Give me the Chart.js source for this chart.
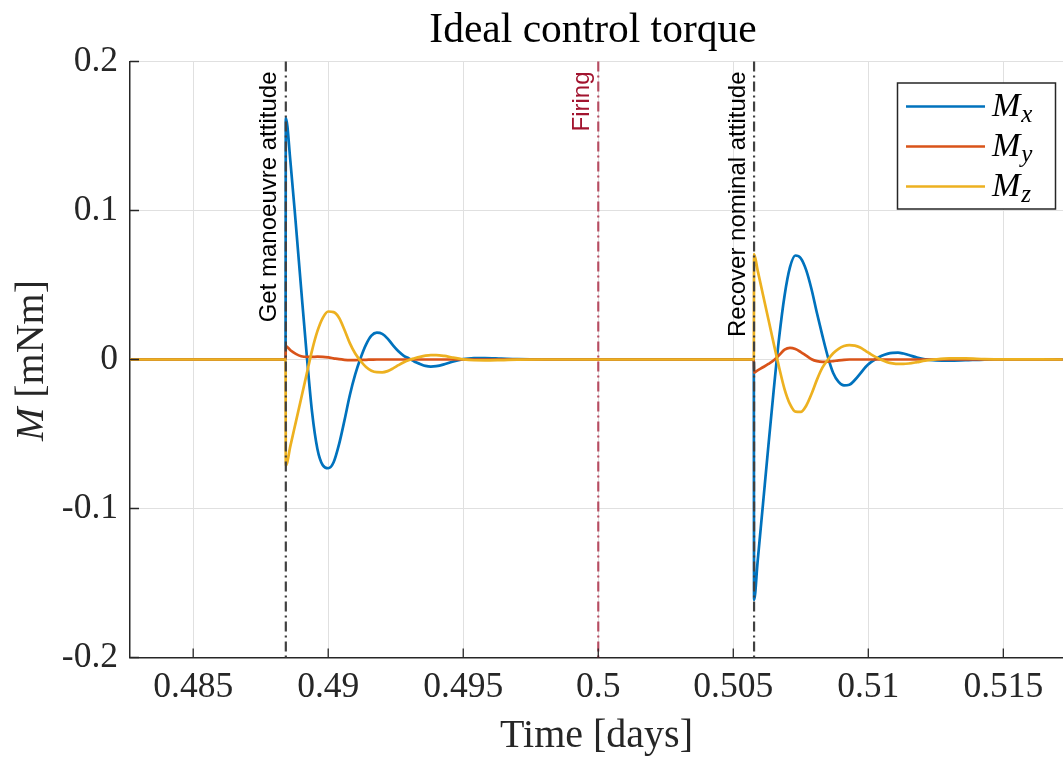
<!DOCTYPE html>
<html>
<head>
<meta charset="utf-8">
<title>Ideal control torque</title>
<script src="https://cdn.jsdelivr.net/npm/chart.js@4.4.1/dist/chart.umd.min.js"></script>
<style>
  html, body { margin: 0; padding: 0; background: #fff; }
  canvas { display: block; }
</style>
</head>
<body>
<canvas id="torqueChart" width="1063" height="758"></canvas>
<script>
// time samples [days]
const timeDays = [
  0.4826, 0.48842, 0.48843, 0.4886, 0.4888, 0.4890, 0.4892, 0.4894, 0.4896, 0.4898,
  0.4900, 0.4902, 0.4904, 0.4906, 0.4908, 0.4910, 0.4912, 0.4914, 0.4916, 0.4918,
  0.4920, 0.4922, 0.4924, 0.4926, 0.4928, 0.4930, 0.4932, 0.4934, 0.4936, 0.4938,
  0.4940, 0.4943, 0.4946, 0.4950, 0.4954, 0.4958, 0.4964, 0.4970, 0.4980, 0.50576,
  0.50577, 0.5059, 0.5061, 0.5063, 0.5065, 0.5067, 0.5069, 0.5071, 0.5073, 0.5075,
  0.5077, 0.5079, 0.5081, 0.5083, 0.5085, 0.5087, 0.5089, 0.5091, 0.5093, 0.5095,
  0.5097, 0.5099, 0.5101, 0.5103, 0.5105, 0.5107, 0.5109, 0.5111, 0.5113, 0.5115,
  0.5118, 0.5121, 0.5125, 0.5130, 0.5136, 0.5143, 0.5152, 0.5172
];

// torque components [mNm]
const torqueX = [
  0, 0, 0.162, 0.133, 0.091, 0.047, 0.004, -0.035, -0.060, -0.071,
  -0.073, -0.069, -0.057, -0.041, -0.024, -0.010, 0.001, 0.010, 0.016, 0.018,
  0.0172, 0.014, 0.0095, 0.0055, 0.0025, 0.0006, -0.0015, -0.003, -0.0043, -0.0048,
  -0.0045, -0.0032, -0.0015, 0.0002, 0.0009, 0.001, 0.0006, 0.0002, 0, 0,
  -0.1614, -0.136, -0.097, -0.058, -0.020, 0.015, 0.043, 0.062, 0.0698, 0.068,
  0.060, 0.047, 0.031, 0.016, 0.002, -0.009, -0.015, -0.0174, -0.017, -0.0138,
  -0.0095, -0.005, -0.0018, 0.0005, 0.0025, 0.0038, 0.0045, 0.0046, 0.004, 0.003,
  0.0013, 0.0001, -0.0006, -0.0008, -0.0005, -0.0001, 0, 0
];
const torqueY = [
  0, 0, 0.009, 0.0062, 0.0038, 0.0022, 0.0017, 0.0017, 0.0019, 0.0018,
  0.0014, 0.0008, 0.0002, -0.0002, -0.0004, -0.0004, -0.0003, -0.0002, -0.0001, 0,
  0, 0, 0, 0, 0, 0, 0, 0, 0, 0,
  0, 0, 0, 0, 0, 0, 0, 0, 0, 0,
  -0.0088, -0.0073, -0.0052, -0.003, -0.0005, 0.003, 0.0066, 0.0078, 0.007, 0.005,
  0.0026, 0.0002, -0.0011, -0.0016, -0.0015, -0.0011, -0.0006, -0.0002, 0, 0,
  0, 0, 0, 0, 0, 0, 0, 0, 0, 0,
  0, 0, 0, 0, 0, 0, 0, 0
];
const torqueZ = [
  0, 0, -0.0713, -0.058, -0.042, -0.026, -0.010, 0.006, 0.019, 0.028,
  0.0322, 0.0318, 0.028, 0.020, 0.011, 0.004, -0.001, -0.005, -0.0075, -0.0085,
  -0.0086, -0.0078, -0.006, -0.0038, -0.0018, -0.0003, 0.0008, 0.0018, 0.0026, 0.003,
  0.003, 0.0024, 0.0013, 0.0001, -0.0005, -0.0006, -0.0004, -0.0001, 0, 0,
  0.0708, 0.060, 0.0435, 0.027, 0.0105, -0.0055, -0.020, -0.030, -0.035, -0.0352,
  -0.031, -0.023, -0.0135, -0.0055, -0.0002, 0.0042, 0.0072, 0.009, 0.0096, 0.0093,
  0.008, 0.0058, 0.0035, 0.0014, -0.0004, -0.0018, -0.0026, -0.003, -0.003, -0.0027,
  -0.0018, -0.0008, 0.0001, 0.0007, 0.0007, 0.0003, 0.0001, 0
];

const seriesNames = ['x', 'y', 'z'];
const seriesColors = ['#0072BD', '#D95319', '#EDB120'];

const xTicks = [0.485, 0.49, 0.495, 0.5, 0.505, 0.51, 0.515];
const xTickLabels = ['0.485', '0.49', '0.495', '0.5', '0.505', '0.51', '0.515'];
const yTicks = [-0.2, -0.1, 0, 0.1, 0.2];
const yTickLabels = ['-0.2', '-0.1', '0', '0.1', '0.2'];

// manoeuvre events marked with vertical lines
const eventTimes = [0.48843, 0.5, 0.50577];
const eventLabels = ['Get manoeuvre attitude', 'Firing', 'Recover nominal attitude'];
const eventLineColors = ['#404040', 'rgba(162,20,47,0.72)', '#404040'];
const eventTextColors = ['#000000', '#A2142F', '#000000'];

const SERIF = '"Liberation Serif", "Times New Roman", serif';
const SANS = '"Liberation Sans", Arial, sans-serif';
const AXIS_COLOR = '#262626';

const points = (vals) => timeDays.map((t, i) => ({ x: t, y: vals[i] }));

const eventLines = {
  id: 'eventLines',
  afterDatasetsDraw(chart) {
    const { ctx, chartArea, scales } = chart;
    ctx.save();
    eventTimes.forEach((t, i) => {
      const px = scales.x.getPixelForValue(t);
      ctx.strokeStyle = eventLineColors[i];
      ctx.lineWidth = 2.2;
      ctx.setLineDash([10, 4, 2, 4]);
      ctx.beginPath();
      ctx.moveTo(px, chartArea.top);
      ctx.lineTo(px, chartArea.bottom);
      ctx.stroke();

      ctx.save();
      ctx.translate(px - 9.5, chartArea.top + 10);
      ctx.rotate(-Math.PI / 2);
      ctx.font = '24px ' + SANS;
      ctx.fillStyle = eventTextColors[i];
      ctx.textAlign = 'right';
      ctx.textBaseline = 'alphabetic';
      ctx.fillText(eventLabels[i], 0, 0);
      ctx.restore();
    });
    ctx.restore();
  }
};

const decorations = {
  id: 'decorations',
  afterDraw(chart) {
    const { ctx, chartArea, scales } = chart;
    ctx.save();

    // inward tick marks
    ctx.strokeStyle = AXIS_COLOR;
    ctx.lineWidth = 1.3;
    ctx.setLineDash([]);
    ctx.beginPath();
    yTicks.forEach(v => {
      const py = scales.y.getPixelForValue(v);
      ctx.moveTo(chartArea.left, py);
      ctx.lineTo(chartArea.left + 9, py);
    });
    xTicks.forEach(v => {
      const px = scales.x.getPixelForValue(v);
      ctx.moveTo(px, chartArea.bottom);
      ctx.lineTo(px, chartArea.bottom - 9);
    });
    ctx.stroke();

    // title and axis labels
    ctx.fillStyle = '#000';
    ctx.textAlign = 'center';
    ctx.textBaseline = 'alphabetic';
    ctx.font = '41.5px ' + SERIF;
    ctx.fillText('Ideal control torque', 593, 42);
    ctx.fillStyle = AXIS_COLOR;
    ctx.font = '40px ' + SERIF;
    ctx.fillText('Time [days]', 596.5, 746.5);

    ctx.save();
    ctx.translate(43, 360.5);
    ctx.rotate(-Math.PI / 2);
    ctx.textAlign = 'left';
    ctx.font = 'italic 40px ' + SERIF;
    const wM = ctx.measureText('M').width;
    ctx.font = '40px ' + SERIF;
    const wUnit = ctx.measureText(' [mNm]').width;
    const x0 = -(wM + wUnit) / 2;
    ctx.font = 'italic 40px ' + SERIF;
    ctx.fillText('M', x0, 0);
    ctx.font = '40px ' + SERIF;
    ctx.fillText(' [mNm]', x0 + wM, 0);
    ctx.restore();

    // legend box
    const bx = 897.5, by = 83, bw = 158, bh = 126;
    ctx.fillStyle = '#fff';
    ctx.fillRect(bx, by, bw, bh);
    ctx.strokeStyle = AXIS_COLOR;
    ctx.lineWidth = 1.5;
    ctx.strokeRect(bx, by, bw, bh);
    seriesNames.forEach((name, i) => {
      const ly = 106.5 + i * 40;
      ctx.strokeStyle = seriesColors[i];
      ctx.lineWidth = 2.6;
      ctx.beginPath();
      ctx.moveTo(906, ly);
      ctx.lineTo(985, ly);
      ctx.stroke();
      ctx.fillStyle = '#000';
      ctx.textAlign = 'left';
      ctx.font = 'italic 34px ' + SERIF;
      ctx.fillText('M', 992, ly + 9);
      const w = ctx.measureText('M').width;
      ctx.font = 'italic 25px ' + SERIF;
      ctx.fillText(name, 992 + w + 1, ly + 15);
    });

    ctx.restore();
  }
};

new Chart(document.getElementById('torqueChart'), {
  type: 'line',
  data: {
    datasets: [
      { label: 'Mx', data: points(torqueX), borderColor: seriesColors[0], order: 3 },
      { label: 'My', data: points(torqueY), borderColor: seriesColors[1], order: 2 },
      { label: 'Mz', data: points(torqueZ), borderColor: seriesColors[2], order: 1 }
    ]
  },
  options: {
    responsive: false,
    animation: false,
    layout: { padding: { top: 61.5, right: 0, left: 0, bottom: 0 } },
    elements: {
      line: { borderWidth: 2.7, cubicInterpolationMode: 'monotone', fill: false },
      point: { radius: 0 }
    },
    plugins: {
      legend: { display: false },
      title: { display: false },
      tooltip: { enabled: false }
    },
    scales: {
      x: {
        type: 'linear',
        min: 0.48266,
        max: 0.51721,
        afterBuildTicks: scale => { scale.ticks = xTicks.map(v => ({ value: v })); },
        afterFit: scale => { scale.height = 100.5; },
        ticks: {
          autoSkip: false,
          maxRotation: 0,
          padding: 9,
          color: AXIS_COLOR,
          font: { family: SERIF, size: 35.5 },
          callback: (v, i) => xTickLabels[i]
        },
        grid: { color: '#e0e0e0', lineWidth: 1, drawTicks: false },
        border: { color: AXIS_COLOR, width: 1.5 }
      },
      y: {
        min: -0.2,
        max: 0.2,
        afterBuildTicks: scale => { scale.ticks = yTicks.map(v => ({ value: v })); },
        afterFit: scale => { scale.width = 130; },
        ticks: {
          padding: 12,
          color: AXIS_COLOR,
          font: { family: SERIF, size: 35.5 },
          callback: (v, i) => yTickLabels[i]
        },
        grid: { color: '#e0e0e0', lineWidth: 1, drawTicks: false },
        border: { color: AXIS_COLOR, width: 1.5 }
      }
    }
  },
  plugins: [eventLines, decorations]
});
</script>
</body>
</html>
